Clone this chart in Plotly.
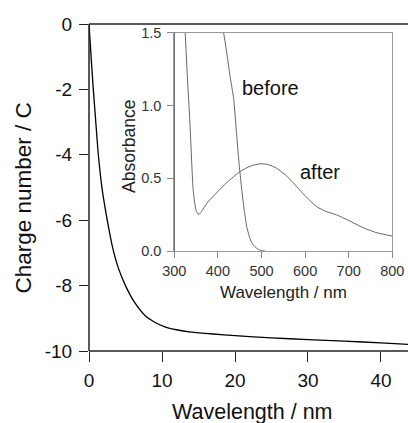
import plotly.graph_objects as go

# Main curve: charge number vs wavelength
main_x = [0, 0.3, 0.59, 0.93, 1.28, 1.8, 2.5, 3.2, 4.0, 5.0, 6.2, 7.7, 9.0, 10.4,
          12.0, 14.0, 17.0, 20, 25, 30, 35, 40, 44]
main_y = [0, -1.05, -2.0, -3.0, -4.0, -5.05, -6.0, -6.8, -7.45, -8.0, -8.5, -8.92,
          -9.12, -9.26, -9.35, -9.42, -9.48, -9.53, -9.6, -9.65, -9.7, -9.75, -9.8]

# Inset: absorbance spectra
before_wl = [405, 412, 420, 428, 436, 443, 448, 454, 460, 466, 472, 478, 485, 492, 500, 508]
before_abs = [1.62, 1.52, 1.37, 1.2, 1.05, 0.8, 0.62, 0.44, 0.29, 0.17, 0.1, 0.055,
              0.03, 0.012, 0.003, 0.0]

after_wl = [320, 325, 330, 336, 343.6, 350, 356, 362, 375, 397, 420, 450.7, 475, 496.5,
            515, 534.8, 560, 580.6, 600, 626.5, 650, 672.5, 700, 733.6, 765, 800]
after_abs = [1.8, 1.5, 1.2, 0.87, 0.41, 0.28, 0.252, 0.27, 0.33, 0.40, 0.47, 0.546,
             0.585, 0.60, 0.595, 0.569, 0.51, 0.443, 0.38, 0.305, 0.27, 0.248, 0.21,
             0.16, 0.125, 0.103]

main_xticks = [0, 10, 20, 30, 40]
main_yticks = [0, -2, -4, -6, -8, -10]
main_yticktext = ["0", "-2", "-4", "-6", "-8", "-10"]
inset_xticks = [300, 400, 500, 600, 700, 800]
inset_yticks = [0.0, 0.5, 1.0, 1.5]

FONT = "Liberation Sans, Arial, sans-serif"
DARK = "#222222"

fig = go.Figure()
fig.add_trace(go.Scatter(x=main_x, y=main_y, mode="lines",
                         line=dict(color="black", width=1.3, shape="spline", smoothing=0.6),
                         xaxis="x", yaxis="y", showlegend=False, hoverinfo="skip",
                         cliponaxis=True))
fig.add_trace(go.Scatter(x=before_wl, y=before_abs, mode="lines",
                         line=dict(color="#666666", width=1, shape="spline", smoothing=0.6),
                         xaxis="x2", yaxis="y2", showlegend=False, hoverinfo="skip"))
fig.add_trace(go.Scatter(x=after_wl, y=after_abs, mode="lines",
                         line=dict(color="#666666", width=1, shape="spline", smoothing=0.6),
                         xaxis="x2", yaxis="y2", showlegend=False, hoverinfo="skip"))

fig.update_layout(
    width=408, height=423,
    margin=dict(l=89, r=0, t=24, b=72, autoexpand=False),
    paper_bgcolor="white", plot_bgcolor="rgba(0,0,0,0)",
    font=dict(family=FONT, color="#111111"),
    xaxis=dict(domain=[0, 1], range=[0, 43.7], tickvals=main_xticks,
               ticks="outside", ticklen=10, tickwidth=1.3, tickcolor=DARK,
               showline=False, mirror=False,
               showgrid=False, zeroline=False, tickfont=dict(size=19),
               ticklabelstandoff=2, anchor="y", automargin=False),
    yaxis=dict(domain=[0, 1], range=[-10, 0], tickvals=main_yticks,
               ticktext=main_yticktext,
               ticks="outside", ticklen=9, tickwidth=1.3, tickcolor=DARK,
               showline=False, mirror=False,
               showgrid=False, zeroline=False, tickfont=dict(size=19),
               ticklabelstandoff=3, anchor="x", automargin=False),
    xaxis2=dict(domain=[0.2674, 0.9508], range=[300, 800], tickvals=inset_xticks,
                ticks="outside", ticklen=6, tickwidth=1, tickcolor="#888888",
                showline=True, linecolor="#999999", linewidth=1, mirror=True,
                showgrid=False, zeroline=False, tickfont=dict(size=14.5, color="#333333"),
                ticklabelstandoff=1, anchor="y2", automargin=False),
    yaxis2=dict(domain=[0.3058, 0.9725], range=[0, 1.5], tickvals=inset_yticks,
                tickformat=".1f",
                ticks="outside", ticklen=6, tickwidth=1, tickcolor="#888888",
                showline=True, linecolor="#999999", linewidth=1, mirror=True,
                showgrid=False, zeroline=False, tickfont=dict(size=14.5, color="#333333"),
                ticklabelstandoff=3, anchor="x2", automargin=False),
)

# main frame: left, bottom and top lines (no right-hand line in the reference)
for x0, x1, y0, y1 in [(0, 0, 0, 1), (0, 1, 0, 0), (0, 1, 1, 1)]:
    fig.add_shape(type="line", xref="paper", yref="paper", x0=x0, x1=x1, y0=y0, y1=y1,
                  line=dict(color=DARK, width=1.5), layer="above")
# dark left axis of the inset
fig.add_shape(type="line", xref="x2", yref="y2 domain", x0=300, x1=300, y0=0, y1=1,
              line=dict(color="#222222", width=1.2), layer="above")

ann = [
    dict(text="Charge number / C", xref="paper", yref="paper", x=-0.2038, y=0.4694,
         textangle=-90, font=dict(size=22.5), showarrow=False,
         xanchor="center", yanchor="middle"),
    dict(text="Wavelength / nm", xref="paper", yref="paper", x=0.511, y=-0.187,
         font=dict(size=21.5), showarrow=False, xanchor="center", yanchor="middle"),
    dict(text="Absorbance", xref="paper", yref="paper", x=0.1254, y=0.624,
         textangle=-90, font=dict(size=17.5, color="#222222"), showarrow=False,
         xanchor="center", yanchor="middle"),
    dict(text="Wavelength / nm", xref="paper", yref="paper", x=0.6097, y=0.1774,
         font=dict(size=17, color="#222222"), showarrow=False,
         xanchor="center", yanchor="middle"),
    dict(text="before", xref="x2", yref="y2", x=520, y=1.12,
         font=dict(size=20), showarrow=False, xanchor="center", yanchor="middle"),
    dict(text="after", xref="x2", yref="y2", x=634, y=0.546,
         font=dict(size=20), showarrow=False, xanchor="center", yanchor="middle"),
]
fig.update_layout(annotations=ann)

fig.write_html("out.html", config={"displayModeBar": False},
               post_script="document.body.style.margin='0';document.body.style.overflow='hidden';")
